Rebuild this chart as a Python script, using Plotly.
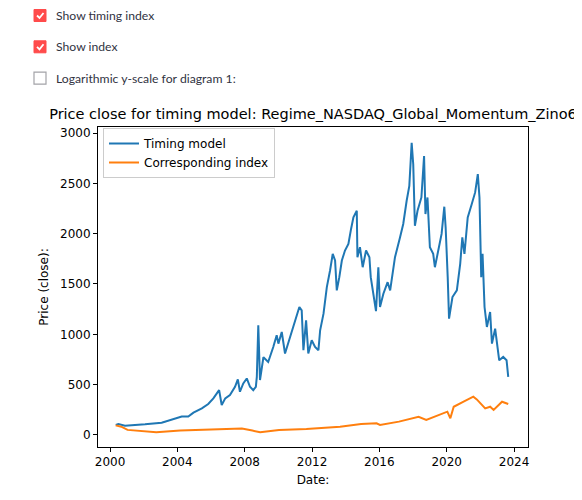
import plotly.graph_objects as go

# Timing model (blue)
timing_dates = [
    "2000-05-05", "2000-07-01", "2000-11-20", "2001-07-01", "2002-01-30", "2003-01-25",
    "2003-11-10", "2004-04-05", "2004-08-25", "2004-12-15", "2005-06-15", "2005-11-01",
    "2006-02-20", "2006-05-05", "2006-06-25", "2006-08-20", "2006-11-05", "2007-02-15",
    "2007-06-05", "2007-08-05", "2007-09-20", "2007-12-01", "2008-02-15", "2008-04-25",
    "2008-07-05", "2008-08-30", "2008-09-20", "2008-10-22", "2008-11-28", "2009-02-10",
    "2009-05-25", "2009-09-12", "2009-11-25", "2010-01-01", "2010-03-15", "2010-05-25",
    "2010-09-12", "2010-12-28", "2011-04-01", "2011-05-22", "2011-06-28", "2011-08-25",
    "2011-10-12", "2011-12-25", "2012-03-07", "2012-05-19", "2012-06-25", "2012-09-06",
    "2012-11-17", "2013-01-26", "2013-03-25", "2013-05-15", "2013-06-21", "2013-08-15",
    "2013-10-09", "2013-12-16", "2014-02-28", "2014-04-27", "2014-06-17", "2014-08-29",
    "2014-09-12", "2014-11-06", "2015-01-04", "2015-03-18", "2015-05-30", "2015-06-28",
    "2015-08-22", "2015-10-20", "2015-12-10", "2016-01-15", "2016-03-28", "2016-06-28",
    "2016-08-22", "2016-10-08", "2016-12-05", "2017-03-25", "2017-06-02", "2017-08-15",
    "2017-10-12", "2017-12-02", "2018-01-05", "2018-02-10", "2018-04-08", "2018-07-01",
    "2018-08-28", "2018-09-27", "2018-11-10", "2019-01-01", "2019-03-14", "2019-04-20",
    "2019-07-01", "2019-09-12", "2019-11-10", "2019-12-09", "2020-01-23", "2020-02-21",
    "2020-05-05", "2020-08-08", "2020-10-20", "2020-12-05", "2021-01-20", "2021-04-01",
    "2021-06-28", "2021-09-09", "2021-11-06", "2021-12-12", "2022-01-19", "2022-02-17",
    "2022-04-01", "2022-05-22", "2022-07-31", "2022-09-09", "2022-11-17", "2023-01-15",
    "2023-02-13", "2023-05-11", "2023-07-23", "2023-08-28",
]
timing_values = [
    100, 109, 92, 95, 105, 122,
    165, 182, 182, 221, 264, 307,
    363, 412, 445, 297, 363, 396,
    478, 551, 429, 511, 561, 478,
    445, 478, 577, 1089, 545, 772,
    725, 874, 990, 907, 1023, 809,
    974, 1139, 1271, 1238, 842, 1139,
    809, 941, 875, 842, 1040, 1205,
    1469, 1634, 1799, 1733, 1436, 1568,
    1733, 1832, 1898, 2047, 2162, 2228,
    1766, 1865, 1667, 1832, 1766, 1568,
    1403, 1230, 1667, 1271, 1403, 1518,
    1436, 1568, 1766, 1964, 2096, 2327,
    2475, 2904, 2690, 2079, 2228, 2360,
    2772, 2195, 2360, 1865, 1799, 1667,
    1832, 1997, 2268, 2063, 1568, 1155,
    1370, 1436, 1700, 1964, 1799, 2162,
    2294, 2410, 2591, 2360, 1568, 1799,
    1271, 1073, 1221, 907, 1056, 874,
    742, 775, 742, 577,
]

# Corresponding index (orange)
index_dates = [
    "2000-05-01", "2000-09-01", "2001-01-15", "2001-10-01", "2002-10-01", "2004-03-01",
    "2006-01-15", "2007-11-01", "2008-06-15", "2008-12-01", "2010-01-15", "2011-09-01",
    "2013-09-01", "2014-12-01", "2015-11-01", "2016-01-15", "2017-03-01", "2018-05-01",
    "2018-10-15", "2019-08-01", "2020-01-15", "2020-03-20", "2020-06-01", "2021-01-01",
    "2021-08-01", "2021-10-15", "2022-04-15", "2022-08-01", "2022-10-15", "2023-04-15",
    "2023-08-28",
]
index_values = [
    95, 82, 50, 38, 26, 43,
    50, 63, 43, 26, 50, 60,
    82, 109, 115, 99, 132, 181,
    149, 198, 231, 165, 280, 330,
    380, 353, 264, 280, 248, 330,
    307,
]

x_tickvals = ["2000-01-01", "2004-01-01", "2008-01-01", "2012-01-01",
              "2016-01-01", "2020-01-01", "2024-01-01"]
x_ticktext = ["2000", "2004", "2008", "2012", "2016", "2020", "2024"]
y_tickvals = [0, 500, 1000, 1500, 2000, 2500, 3000]

checkbox_labels = ["Show timing index", "Show index", "Logarithmic y-scale for diagram 1:"]
checkbox_checked = [True, True, False]

# the page body adds an 8px margin, so the figure is drawn 8px smaller/shifted
OFF = 8
W, H = 582 - OFF, 500 - OFF
L, R, T, B = 98 - OFF, 528 - OFF, 127 - OFF, 447 - OFF


def px(x):
    return (x - OFF - L) / (R - L)


def py(y):
    return (B - (y - OFF)) / (B - T)


fig = go.Figure()
fig.add_trace(go.Scatter(x=timing_dates, y=timing_values, mode="lines",
                         name="Timing model", line=dict(color="#1f77b4", width=2)))
fig.add_trace(go.Scatter(x=index_dates, y=index_values, mode="lines",
                         name="Corresponding index", line=dict(color="#ff7f0e", width=2)))

# streamlit checkboxes above the chart (positions in page pixels)
shapes = []
annotations = []
for i, (label, checked) in enumerate(zip(checkbox_labels, checkbox_checked)):
    cy = 15.5 + i * 31.3
    x0, x1, y0, y1 = 34, 46, cy - 6, cy + 6
    if checked:
        shapes.append(dict(type="rect", xref="paper", yref="paper",
                           x0=px(x0), x1=px(x1), y0=py(y1), y1=py(y0),
                           fillcolor="#ff4b4b", line=dict(color="#ff4b4b", width=1)))
        shapes.append(dict(type="path", xref="paper", yref="paper",
                           path=f"M {px(37)},{py(cy)} L {px(39.5)},{py(cy + 2.5)} L {px(43.5)},{py(cy - 2.5)}",
                           line=dict(color="white", width=1.8)))
    else:
        shapes.append(dict(type="rect", xref="paper", yref="paper",
                           x0=px(x0), x1=px(x1), y0=py(y1), y1=py(y0),
                           fillcolor="white", line=dict(color="#a3a3a8", width=1.2)))
    annotations.append(dict(text=label, xref="paper", yref="paper", x=px(54), y=py(cy),
                            xanchor="left", yanchor="middle", showarrow=False,
                            font=dict(family="Lato", size=12.2, color="#31333f")))

axis_font = dict(family="DejaVu Sans", size=12, color="black")

fig.update_layout(
    width=W, height=H,
    margin=dict(l=L, r=W - R, t=T, b=H - B, autoexpand=False),
    plot_bgcolor="white", paper_bgcolor="white",
    title=dict(text="Price close for timing model: Regime_NASDAQ_Global_Momentum_Zino6",
               x=px((98 + 528) / 2), xref="paper", xanchor="center",
               y=1 - (114 - OFF) / H, yanchor="middle",
               font=dict(family="DejaVu Sans", size=14.5, color="black")),
    showlegend=True,
    legend=dict(x=px(103), y=py(128), xanchor="left", yanchor="top",
                bgcolor="rgba(255,255,255,0.8)", bordercolor="#cccccc", borderwidth=1,
                font=dict(family="DejaVu Sans", size=12, color="black"),
                tracegroupgap=0, itemwidth=30),
    shapes=shapes,
    annotations=annotations,
)

fig.update_xaxes(
    range=["1999-04-15", "2024-10-30"],
    tickmode="array", tickvals=x_tickvals, ticktext=x_ticktext,
    showgrid=False, zeroline=False, automargin=False,
    showline=True, mirror=True, linecolor="black", linewidth=1,
    ticks="outside", ticklen=4, tickcolor="black",
    tickfont=axis_font,
    title=dict(text="Date:", font=axis_font, standoff=7),
)
fig.update_yaxes(
    range=[-120, 3060],
    tickmode="array", tickvals=y_tickvals,
    showgrid=False, zeroline=False, automargin=False,
    showline=True, mirror=True, linecolor="black", linewidth=1,
    ticks="outside", ticklen=4, tickcolor="black",
    tickfont=axis_font,
    title=dict(text="Price (close):", font=axis_font, standoff=8),
)

fig.write_html("out.html")
